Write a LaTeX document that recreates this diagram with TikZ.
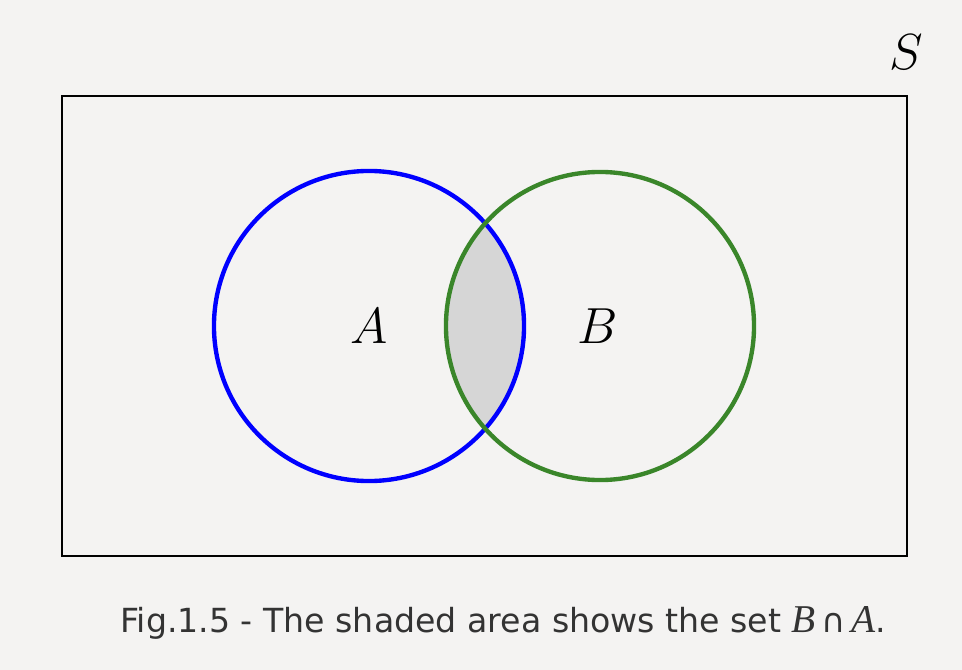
\documentclass[tikz,border=0pt]{standalone}
\usepackage{fontspec}
\usetikzlibrary{positioning}
\newfontfamily\capfont{DejaVu Sans}
\newfontfamily\capmath{Liberation Serif}
\definecolor{paper}{HTML}{F4F3F2}
\definecolor{setblue}{HTML}{0000FF}
\definecolor{setgreen}{HTML}{3A862A}
\definecolor{lensgray}{HTML}{D6D6D6}
\definecolor{captext}{HTML}{333333}

\begin{document}
\begin{tikzpicture}[
    x=0.025cm, y=-0.025cm,
    universe/.style={draw=black, line width=1.4pt, minimum width=21.125cm,
      minimum height=11.5cm, inner sep=0pt},
    setcircle/.style={circle, line width=3.1pt, minimum size=7.75cm,
      inner sep=0pt},
    setlabel/.style={scale=1.45, font=\fontsize{24}{28}\selectfont},
    caption/.style={text=captext, font=\capfont\fontsize{23.6}{28}\selectfont}
  ]
    \fill[paper] (0,0) rectangle (962,670);
    \useasboundingbox (0,0) rectangle (962,670);

    \node[universe] (S) at (484.5,326) {};
    \node[setlabel, anchor=center] (Slabel) at (906,52) {$S$};

    % circles and their common part
    \coordinate (Ac) at (369,326);
    \coordinate (Bc) at (600,326);
    \begin{scope}
      \clip (Ac) circle[radius=155];
      \fill[lensgray] (Bc) circle[radius=154];
    \end{scope}
    \node[setcircle, draw=setblue] (A) at (Ac) {};
    \node[setcircle, draw=setgreen, minimum size=7.7cm] (B) at (Bc) {};

    \node[setlabel] (Alabel) at (A.center) {$A$};
    \node[setlabel] (Blabel) at ([xshift=-0.05cm]B.center) {$B$};

    \node[caption] (cap) at (503,623)
      {Fig.1.5 - The shaded area shows the set
       {\capmath\fontsize{28}{28}\selectfont\itshape B}\,{\capfont\char"2229}\,%
       {\capmath\fontsize{28}{28}\selectfont\itshape A}.};
  \end{tikzpicture}
\end{document}
